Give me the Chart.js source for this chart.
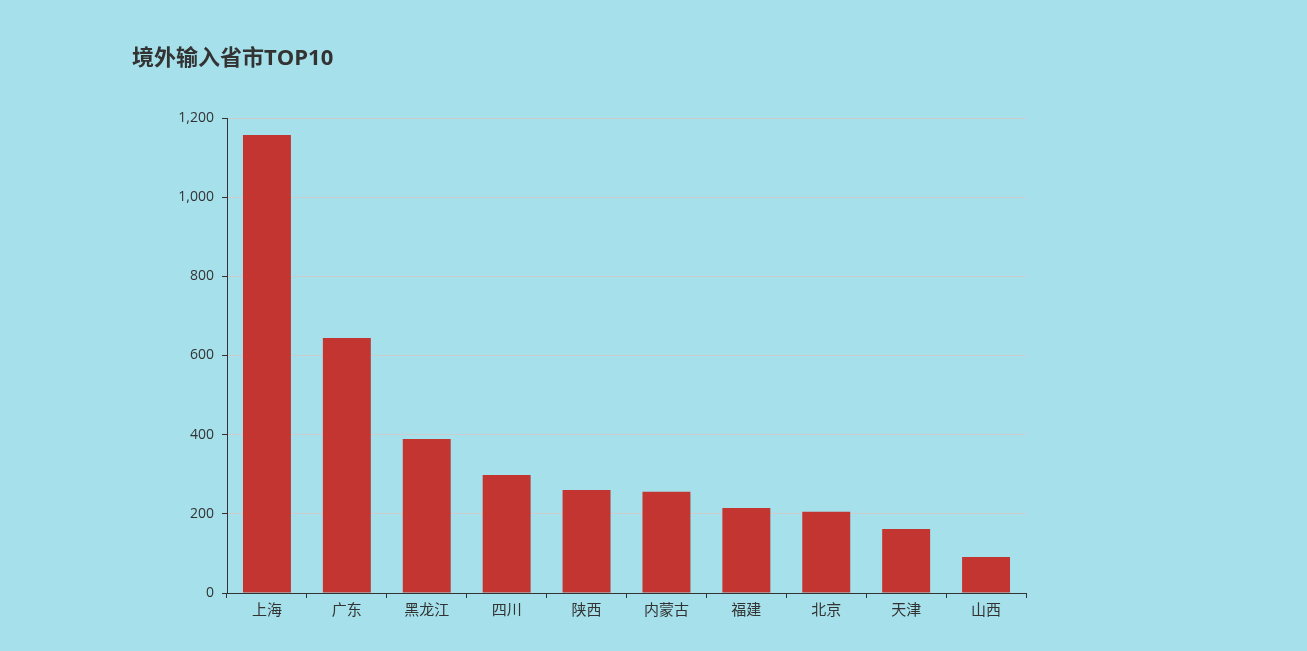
<!DOCTYPE html>
<html><head><meta charset="utf-8">
<script src="https://cdn.jsdelivr.net/npm/chart.js@4"></script>
<style>html,body{margin:0;padding:0;background:#a5e0eb;}#wrap{width:1307px;height:651px;position:relative;}</style>
</head><body><div id="wrap"><canvas id="c" width="1307" height="651"></canvas></div>
<script>
const titleText = '境外输入省市TOP10';
const categories = ['上海','广东','黑龙江','四川','陕西','内蒙古','福建','北京','天津','山西'];
const values = [1157, 644, 389, 298, 260, 256, 215, 205, 162, 91];
const yTicks = [0, 200, 400, 600, 800, 1000, 1200];

const FONT = '"Open Sans", "Noto Sans CJK SC", sans-serif';
const CJK = '"Noto Sans CJK SC", sans-serif';
const titlePlugin = {
  id: 'titleDraw',
  afterDraw(chart) {
    const ctx = chart.ctx;
    ctx.save();
    ctx.font = 'bold 22px ' + FONT;
    ctx.fillStyle = '#333';
    ctx.textBaseline = 'middle';
    ctx.textAlign = 'left';
    ctx.fillText(titleText, 132, 59);
    ctx.restore();
  }
};
new Chart(document.getElementById('c'), {
  type: 'bar',
  data: { labels: categories, datasets: [{ data: values, backgroundColor: '#c23531', barPercentage: 0.6, categoryPercentage: 1.0 }] },
  options: {
    responsive: false, animation: false,
    layout: { padding: { left: 0, right: 281, top: 118, bottom: 0 } },
    plugins: { legend: { display: false }, tooltip: { enabled: false } },
    scales: {
      x: {
        afterFit(s) { s.height = 58; },
        border: { color: '#333', width: 1 },
        grid: { display: true, drawOnChartArea: false, offset: true, tickColor: '#333', tickLength: 5 },
        ticks: { color: '#333', font: { size: 15, family: CJK }, padding: 2 }
      },
      y: {
        min: 0, max: 1200,
        afterFit(s) { s.width = 227; },
        afterBuildTicks(s) { s.ticks = yTicks.map(v => ({ value: v })); },
        border: { color: '#333', width: 1 },
        grid: { color: '#cccccc', tickColor: '#333', tickLength: 5 },
        ticks: { color: '#333', font: { size: 14, family: FONT }, padding: 8,
          callback: v => v.toLocaleString('en-US') }
      }
    }
  },
  plugins: [titlePlugin]
});
</script></body></html>
